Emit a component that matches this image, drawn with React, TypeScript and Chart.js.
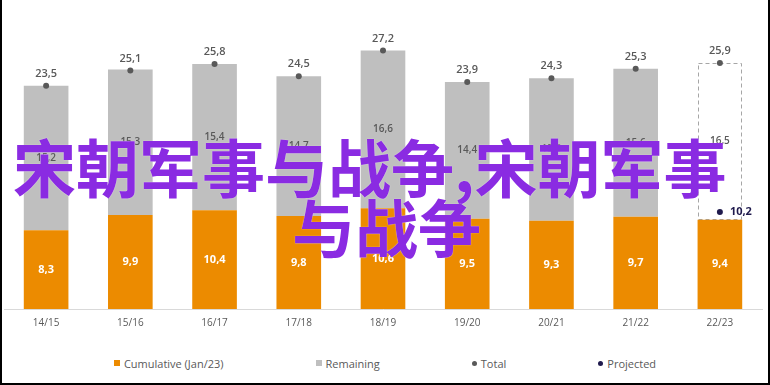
import React, { useEffect, useRef } from "react";
import { Chart, registerables } from "chart.js";

Chart.register(...registerables);

const categories = ["14/15", "15/16", "16/17", "17/18", "18/19", "19/20", "20/21", "21/22", "22/23"];
const cumulative = [8.3, 9.9, 10.4, 9.8, 10.6, 9.5, 9.3, 9.7, 9.4];
const remaining = [15.2, 15.3, 15.4, 14.7, 16.6, 14.4, 15.0, 15.6, 16.5];
const totals = [23.5, 25.1, 25.8, 24.5, 27.2, 23.9, 24.3, 25.3, 25.9];
const projected = [null, null, null, null, null, null, null, null, 10.2];
const legendLabels = ["Cumulative (Jan/23)", "Remaining", "Total", "Projected"];
const watermarkLine1 = "宋朝军事与战争,宋朝军事";
const watermarkLine2 = "与战争";

const ORANGE = "#EC8B00";
const GRAY = "#BFBFBF";
const DARK = "#595959";
const NAVY = "#1F1A4D";
const FONT = "'Open Sans', sans-serif";

const fmt = (v: number) => v.toFixed(1).replace(".", ",");

const labelPlugin = {
  id: "customLabels",
  beforeDatasetsDraw(chart: any) {
    const ctx = chart.ctx;
    const meta = chart.getDatasetMeta(1);
    const el: any = meta.data[8];
    if (!el) return;
    const w = el.width;
    ctx.save();
    ctx.setLineDash([4, 3]);
    ctx.strokeStyle = "#A6A6A6";
    ctx.lineWidth = 1;
    const left = Math.round(el.x - w / 2) + 0.5;
    const right = Math.round(el.x + w / 2) - 0.5;
    const top = Math.round(el.y) + 0.5;
    const bottom = Math.round(el.base) - 0.5;
    ctx.strokeRect(left, top, right - left, bottom - top);
    ctx.restore();
  },
  afterDatasetsDraw(chart: any) {
    const ctx = chart.ctx;
    ctx.save();
    ctx.textAlign = "center";
    ctx.textBaseline = "middle";
    // cumulative
    chart.getDatasetMeta(0).data.forEach((el: any, i: number) => {
      ctx.fillStyle = "#FFFFFF";
      ctx.font = `700 11px ${FONT}`;
      ctx.fillText(fmt(cumulative[i]), el.x, (el.y + el.base) / 2);
    });
    chart.getDatasetMeta(1).data.forEach((el: any, i: number) => {
      ctx.fillStyle = DARK;
      ctx.font = `600 10px ${FONT}`;
      ctx.fillText(fmt(remaining[i]), el.x, (el.y + el.base) / 2);
    });
    chart.getDatasetMeta(2).data.forEach((el: any, i: number) => {
      ctx.fillStyle = DARK;
      ctx.font = `600 11px ${FONT}`;
      ctx.fillText(fmt(totals[i]), el.x, el.y - 12);
    });
    chart.getDatasetMeta(3).data.forEach((el: any, i: number) => {
      const v = projected[i];
      if (v === null || v === undefined) return;
      ctx.fillStyle = NAVY;
      ctx.font = `700 11px ${FONT}`;
      ctx.textAlign = "left";
      ctx.fillText(fmt(v), el.x + 10, el.y);
      ctx.textAlign = "center";
    });
    ctx.restore();
  },
};

export default function App() {
  const ref = useRef<HTMLCanvasElement>(null);

  useEffect(() => {
    document.body.style.margin = "0";
    if (!ref.current) return;
    const chart = new Chart(ref.current, {
      type: "bar",
      data: {
        labels: categories,
        datasets: [
          {
            label: legendLabels[0],
            data: cumulative,
            backgroundColor: ORANGE,
            stack: "bars",
            order: 3,
          },
          {
            label: legendLabels[1],
            data: remaining,
            backgroundColor: remaining.map((_, i) => (i === 8 ? "rgba(0,0,0,0)" : GRAY)),
            stack: "bars",
            order: 3,
          },
          {
            type: "line",
            label: legendLabels[2],
            data: totals,
            showLine: false,
            pointRadius: 3,
            pointBackgroundColor: DARK,
            pointBorderWidth: 0,
            borderColor: DARK,
            stack: "total",
            order: 1,
          } as any,
          {
            type: "line",
            label: legendLabels[3],
            data: projected,
            showLine: false,
            pointRadius: 3,
            pointBackgroundColor: NAVY,
            pointBorderWidth: 0,
            borderColor: NAVY,
            stack: "proj",
            order: 0,
          } as any,
        ],
      },
      options: {
        animation: false,
        responsive: false,
        datasets: {
          bar: { categoryPercentage: 1, barPercentage: 0.53 },
        },
        layout: { padding: { left: 2, right: 8, top: 5, bottom: 0 } },
        plugins: {
          legend: { display: false },
          tooltip: { enabled: false },
        },
        scales: {
          x: {
            stacked: true,
            grid: { display: false, drawTicks: false },
            border: { display: true, color: "#D9D9D9", width: 1 },
            ticks: {
              color: DARK,
              font: { family: FONT, size: 10 },
              padding: 8,
            },
            afterFit: (axis: any) => {
              axis.height = 36;
            },
          },
          y: {
            stacked: true,
            display: false,
            min: 0,
            max: 32,
          },
        },
      },
      plugins: [labelPlugin],
    });
    return () => chart.destroy();
  }, []);

  const markers = [
    { kind: "square", color: ORANGE },
    { kind: "square", color: GRAY },
    { kind: "circle", color: DARK },
    { kind: "circle", color: NAVY },
  ];

  const wmStyle: React.CSSProperties = {
    position: "absolute",
    fontFamily: "'Noto Sans CJK SC', sans-serif",
    fontWeight: 700,
    fontSize: 63,
    lineHeight: "62px",
    color: "#8A2BE2",
    whiteSpace: "pre",
    textShadow: "0 0 1px rgba(255,255,255,0.9)",
    pointerEvents: "none",
  };

  return (
    <div style={{ position: "relative", width: 770, height: 385, overflow: "hidden", background: "#fff" }}>
      <canvas ref={ref} width={770} height={345} style={{ position: "absolute", left: 0, top: 0, width: 770, height: 345 }} />
      <div
        style={{
          position: "absolute",
          left: 0,
          top: 355,
          width: 770,
          height: 16,
          display: "flex",
          justifyContent: "center",
          alignItems: "center",
          gap: 92,
          fontFamily: FONT,
          fontSize: 11,
          color: DARK,
        }}
      >
        {legendLabels.map((t, i) => (
          <div key={t} style={{ display: "flex", alignItems: "center", gap: 4 }}>
            <span
              style={{
                display: "inline-block",
                width: markers[i].kind === "square" ? 6 : 5,
                height: markers[i].kind === "square" ? 6 : 5,
                borderRadius: markers[i].kind === "circle" ? "50%" : 0,
                background: markers[i].color,
              }}
            />
            <span>{t}</span>
          </div>
        ))}
      </div>
      <div style={{ ...wmStyle, left: 13, top: 134 }}>{watermarkLine1}</div>
      <div style={{ ...wmStyle, left: 292, top: 194 }}>{watermarkLine2}</div>
      <div
        style={{
          position: "absolute",
          inset: 0,
          borderLeft: "2px solid #000",
          borderRight: "2px solid #000",
          borderBottom: "2px solid #000",
          pointerEvents: "none",
        }}
      />
    </div>
  );
}
